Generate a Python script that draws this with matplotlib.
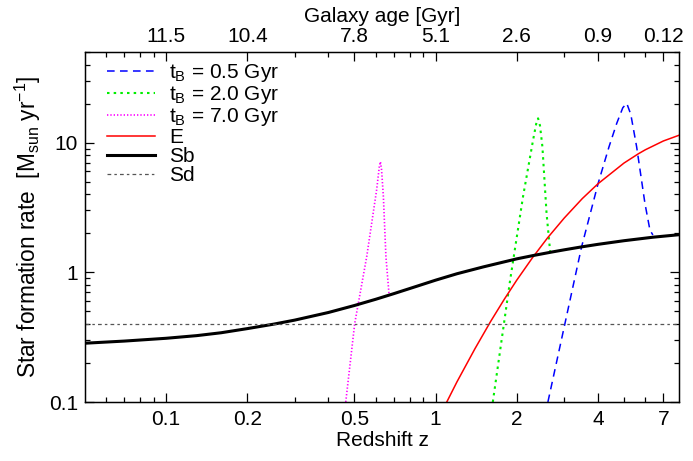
import matplotlib
matplotlib.use('Agg')
import matplotlib.pyplot as plt
from matplotlib.ticker import FixedLocator, FixedFormatter, NullFormatter

plt.rcParams['font.family'] = ['Liberation Sans', 'DejaVu Sans']
plt.rcParams['mathtext.fontset'] = 'custom'
plt.rcParams['mathtext.rm'] = 'Liberation Sans'
plt.rcParams['mathtext.it'] = 'Liberation Sans:italic'
plt.rcParams['mathtext.default'] = 'regular'

# ---------------- data ----------------
z_tb05 = [2.61, 3.02, 3.48, 4.01, 4.40, 4.70, 4.95, 5.12, 5.30, 5.57, 5.98, 6.24, 6.40]
sfr_tb05 = [0.1, 0.404, 1.57, 4.86, 9.3, 14.1, 18.6, 20.1, 16.5, 9.3, 3.40, 2.12, 1.94]

z_tb20 = [1.63, 1.89, 2.11, 2.30, 2.37, 2.40, 2.44, 2.49, 2.58, 2.66]
sfr_tb20 = [0.1, 0.87, 3.83, 10.5, 14.5, 15.4, 13.5, 9.3, 2.85, 1.45]

z_tb70 = [0.464, 0.501, 0.555, 0.604, 0.618, 0.624, 0.630, 0.640, 0.654, 0.672]
sfr_tb70 = [0.1, 0.404, 1.32, 4.31, 6.5, 7.13, 6.2, 3.83, 1.32, 0.668]

z_e = [1.10, 1.2, 1.4, 1.6, 1.8, 2.0, 2.29, 2.6, 3.0, 3.5, 4.0, 5.0, 5.65, 6.0, 7.0, 8.0]
sfr_e = [0.1, 0.143, 0.258, 0.418, 0.622, 0.87, 1.30, 1.84, 2.62, 3.70, 4.81, 6.96, 8.2, 8.81, 10.3, 11.4]

z_sb = [0.05, 0.07, 0.1, 0.13, 0.16, 0.2, 0.25, 0.3, 0.4, 0.5, 0.6, 0.7, 0.85, 1.0, 1.2,
        1.5, 1.8, 2.0, 2.3, 2.7, 3.0, 3.5, 4.0, 5.0, 6.4, 8.0]
sfr_sb = [0.284, 0.295, 0.31, 0.325, 0.342, 0.368, 0.398, 0.428, 0.49, 0.555, 0.62, 0.685, 0.78, 0.87, 0.975,
          1.10, 1.205, 1.27, 1.347, 1.434, 1.491, 1.574, 1.643, 1.753, 1.865, 1.95]

z_sd = [0.05, 8.0]
sfr_sd = [0.4, 0.4]

xmajor = [0.1, 0.2, 0.5, 1, 2, 4, 7]
xmajor_labels = ['0.1', '0.2', '0.5', '1', '2', '4', '7']
xminor = [0.06, 0.07, 0.08, 0.09, 0.3, 0.4, 0.6, 0.7, 0.8, 0.9, 3, 5, 6]
age_labels = ['11.5', '10.4', '7.8', '5.1', '2.6', '0.9', '0.12']
ymajor = [0.1, 1, 10]
ymajor_labels = ['0.1', '1', '10']

FS = 15

fig = plt.figure(figsize=(6.93, 4.61), dpi=100)
ax = fig.add_axes([85/693, 59/461, 594/693, 350/461])

ax.plot(z_tb05, sfr_tb05, color='#0000ff', lw=1.1, dashes=(5, 3.5), label='t$_{B}$ = 0.5 Gyr')
ax.plot(z_tb20, sfr_tb20, color='#00ee00', lw=1.5, dashes=(1.2, 2.0), label='t$_{B}$ = 2.0 Gyr')
ax.plot(z_tb70, sfr_tb70, color='#ff00ff', lw=1.2, dashes=(0.8, 1.2), label='t$_{B}$ = 7.0 Gyr')
ax.plot(z_e, sfr_e, color='#ff0000', lw=1.1, label='E')
ax.plot(z_sb, sfr_sb, color='black', lw=2.2, label='Sb')
ax.plot(z_sd, sfr_sd, color='#555555', lw=0.9, dashes=(3, 2.5, 2, 2.5), label='Sd')

ax.set_xscale('log')
ax.set_yscale('log')
ax.set_xlim(0.05, 8.0)
ax.set_ylim(0.1, 50)

ax.xaxis.set_major_locator(FixedLocator(xmajor))
ax.xaxis.set_major_formatter(FixedFormatter(xmajor_labels))
ax.xaxis.set_minor_locator(FixedLocator(xminor))
ax.xaxis.set_minor_formatter(NullFormatter())
ax.yaxis.set_major_locator(FixedLocator(ymajor))
ax.yaxis.set_major_formatter(FixedFormatter(ymajor_labels))

ax.tick_params(which='both', direction='in', top=False, right=True, width=0.9, labelsize=FS)
ax.tick_params(which='major', length=6.5)
ax.tick_params(which='minor', length=3.6)
ax.tick_params(axis='x', pad=6)
ax.tick_params(axis='y', pad=5)
for s in ax.spines.values():
    s.set_linewidth(1.0)

ax.set_xlabel('Redshift z', fontsize=FS, labelpad=1)
ax.set_ylabel('Star formation rate  [M$_{sun}$ yr$^{-1}$]', fontsize=16.3, labelpad=4)

ax2 = ax.twiny()
ax2.set_xscale('log')
ax2.set_xlim(ax.get_xlim())
ax2.xaxis.set_major_locator(FixedLocator(xmajor))
ax2.xaxis.set_major_formatter(FixedFormatter(age_labels))
ax2.xaxis.set_minor_locator(FixedLocator(xminor))
ax2.xaxis.set_minor_formatter(NullFormatter())
ax2.tick_params(which='both', direction='in', width=0.9, labelsize=FS, pad=4)
ax2.tick_params(which='major', length=6.5)
ax2.tick_params(which='minor', length=3.6)
ax2.set_xlabel('Galaxy age [Gyr]', fontsize=FS, labelpad=4)

leg = ax.legend(loc='upper left', bbox_to_anchor=(0.02, 1.0), frameon=False, fontsize=FS,
                handlelength=2.3, handletextpad=0.65, labelspacing=0.0, borderaxespad=0.3,
                borderpad=0.2)

fig.savefig('out.png', dpi=100)
